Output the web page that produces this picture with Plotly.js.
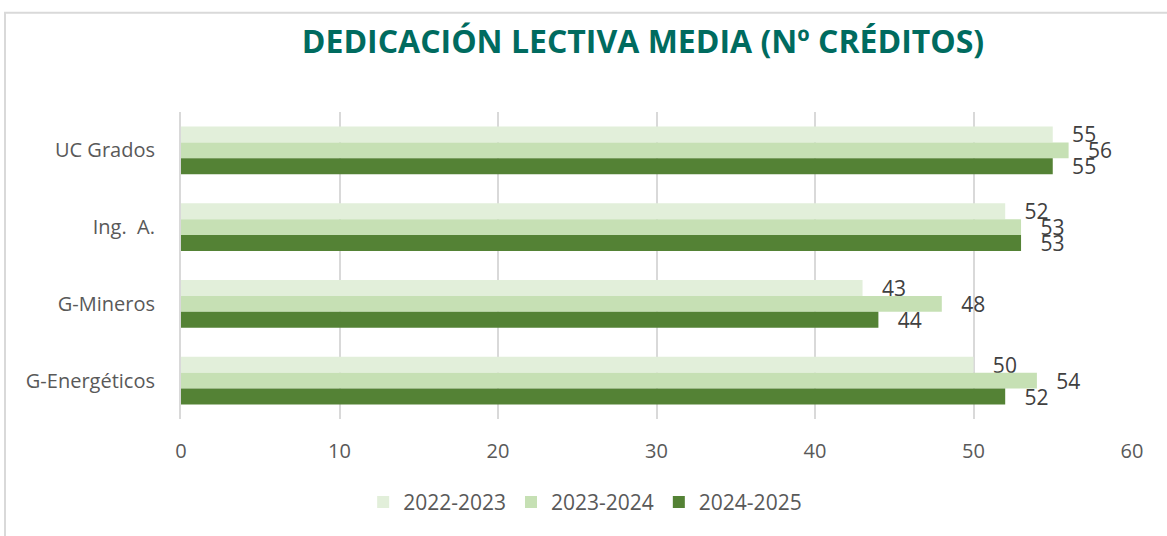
<!DOCTYPE html>
<html>
<head>
<meta charset="utf-8">
<script src="https://cdn.plot.ly/plotly-3.0.1.min.js"></script>
<style>
html,body{margin:0;padding:0;background:#fff;}
#chart{width:1167px;height:536px;}
</style>
</head>
<body>
<div id="chart"></div>
<script>
const categories = ['UC Grados', 'Ing.  A.', 'G-Mineros', 'G-Energéticos'];
const seriesNames = ['2022-2023', '2023-2024', '2024-2025'];
const values2022 = [55, 52, 43, 50];
const values2023 = [56, 53, 48, 54];
const values2024 = [55, 53, 44, 52];
const xTicks = [0, 10, 20, 30, 40, 50, 60];
const colors = ['#E2EFDA', '#C6E0B4', '#548235'];

const FONT = 'Open Sans, Liberation Sans, sans-serif';
const allValues = [values2022, values2023, values2024];

const traces = allValues.map((vals, i) => ({
  type: 'bar',
  orientation: 'h',
  name: seriesNames[i],
  y: categories,
  x: vals,
  marker: {color: colors[i]},
  text: vals.map(String),
  texttemplate: '\u00a0\u00a0\u00a0%{x}',
  textposition: 'outside',
  constraintext: 'none',
  cliponaxis: false,
  textfont: {family: FONT, size: 21, color: '#404040'},
  hoverinfo: 'x+name'
}));

const L = 181, R = 35, T = 111.5, B = 116.5;
const W = 1167, H = 536;
const pw = W - L - R, ph = H - T - B;
const px = v => (v - L) / pw;
const py = v => (H - B - v) / ph;

const layout = {
  width: W,
  height: H,
  margin: {l: L, r: R, t: T, b: B, pad: 0},
  paper_bgcolor: '#ffffff',
  plot_bgcolor: '#ffffff',
  font: {family: FONT, color: '#595959', size: 20},
  title: {
    text: '<b>DEDICACIÓN LECTIVA MEDIA (Nº CRÉDITOS)</b>',
    font: {family: FONT, size: 32, color: '#006B5F'},
    x: 643 / W, xref: 'container', xanchor: 'center',
    y: 1 - 42 / H, yref: 'container', yanchor: 'middle'
  },
  barmode: 'group',
  bargap: 0.377,
  bargroupgap: 0,
  xaxis: {
    range: [0, 60],
    tickvals: xTicks,
    ticktext: xTicks.map(String),
    showgrid: true,
    gridcolor: '#D9D9D9',
    gridwidth: 1.5,
    zeroline: false,
    showline: false,
    ticks: '',
    ticklabelstandoff: 18,
    tickfont: {family: FONT, size: 20, color: '#595959'},
    fixedrange: true
  },
  yaxis: {
    type: 'category',
    autorange: 'reversed',
    showgrid: false,
    zeroline: false,
    showline: true,
    linecolor: '#D9D9D9',
    linewidth: 2,
    ticks: '',
    ticklabelstandoff: 20,
    tickfont: {family: FONT, size: 20, color: '#595959'},
    fixedrange: true
  },
  showlegend: true,
  legend: {
    orientation: 'h',
    x: 0.425, xanchor: 'center',
    y: py(503), yanchor: 'middle',
    font: {family: FONT, size: 21, color: '#595959'},
    traceorder: 'normal',
    itemclick: false
  },
  shapes: [{
    type: 'rect', xref: 'paper', yref: 'paper',
    x0: px(5), x1: px(1200), y0: py(12), y1: py(600),
    line: {color: '#D9D9D9', width: 2},
    fillcolor: 'rgba(0,0,0,0)',
    layer: 'below'
  }]
};

Plotly.newPlot('chart', traces, layout, {displayModeBar: false, responsive: false});
</script>
</body>
</html>
